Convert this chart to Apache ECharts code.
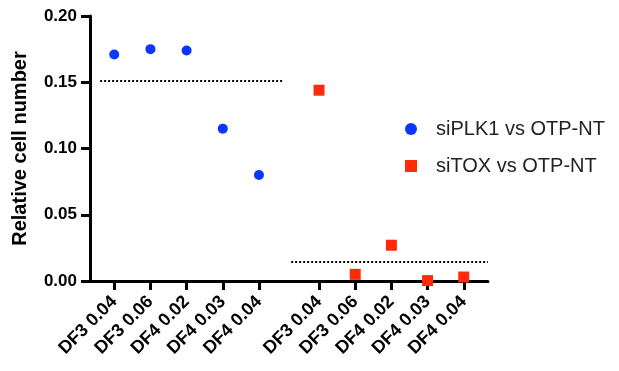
<!DOCTYPE html>
<html>
<head>
<meta charset="utf-8">
<script src="https://cdn.jsdelivr.net/npm/echarts@6/dist/echarts.min.js"></script>
<style>
  html, body { margin: 0; padding: 0; background: #fff; }
  #chart-1 { width: 619px; height: 371px; }
</style>
</head>
<body>
<div id="chart-1"></div>
<script>
// categories, two groups of five
var labels = ['DF3 0.04', 'DF3 0.06', 'DF4 0.02', 'DF4 0.03', 'DF4 0.04',
              'DF3 0.04', 'DF3 0.06', 'DF4 0.02', 'DF4 0.03', 'DF4 0.04'];
// positions on the x axis (second group is shifted right)
var xPos = [1, 2, 3, 4, 5, 6.66, 7.66, 8.66, 9.66, 10.66];
var plkValues = [0.171, 0.175, 0.174, 0.115, 0.080];
var toxValues = [0.144, 0.005, 0.027, 0.0003, 0.003];
// dotted threshold lines: [value, from x, to x]
var plkLine = [0.151, 0.61, 5.66];
var toxLine = [0.0143, 5.89, 11.33];

var myChart = echarts.init(document.getElementById('chart-1'));

var plkData = plkValues.map(function (v, i) { return [xPos[i], v]; });
var toxData = toxValues.map(function (v, i) { return [xPos[i + 5], v]; });

var dotted = {
    color: '#000',
    width: 2,
    type: [2, 2]
};

var option = {
    animation: false,
    grid: {
        left: 90,
        right: 131,
        top: 16,
        bottom: 90
    },
    legend: {
        orient: 'vertical',
        left: 400,
        top: 114,
        itemGap: 17,
        itemWidth: 12,
        itemHeight: 12,
        textStyle: {
            fontSize: 20,
            color: '#222',
            fontFamily: 'Liberation Sans',
            padding: [0, 0, 0, 14]
        },
        data: [
            {name: 'siPLK1 vs OTP-NT', icon: 'circle'},
            {name: 'siTOX vs OTP-NT', icon: 'rect'}
        ]
    },
    xAxis: {
        type: 'value',
        min: 0.33,
        max: 11.33,
        axisLine: {
            lineStyle: {color: '#000', width: 3}
        },
        axisTick: {
            show: true,
            length: 9,
            customValues: xPos,
            lineStyle: {color: '#000', width: 3}
        },
        axisLabel: {
            customValues: xPos,
            rotate: 45,
            margin: 18,
            fontSize: 18,
            fontWeight: 'bold',
            color: '#000',
            fontFamily: 'Liberation Sans',
            formatter: function (v) {
                var i = xPos.indexOf(v);
                return i >= 0 ? labels[i] : '';
            }
        },
        splitLine: {show: false}
    },
    yAxis: {
        type: 'value',
        min: 0,
        max: 0.2,
        interval: 0.05,
        name: 'Relative cell number',
        nameLocation: 'middle',
        nameGap: 60,
        nameTextStyle: {
            fontSize: 20,
            fontWeight: 'bold',
            color: '#000',
            fontFamily: 'Liberation Sans'
        },
        axisLine: {
            show: true,
            lineStyle: {color: '#000', width: 3}
        },
        axisTick: {
            show: true,
            length: 9,
            lineStyle: {color: '#000', width: 3}
        },
        axisLabel: {
            margin: 13,
            fontSize: 17,
            fontWeight: 'bold',
            color: '#000',
            fontFamily: 'Liberation Sans',
            formatter: function (v) { return v.toFixed(2); }
        },
        splitLine: {show: false}
    },
    series: [
        {
            name: 'siPLK1 vs OTP-NT',
            type: 'scatter',
            symbol: 'circle',
            symbolSize: 10,
            itemStyle: {color: '#0a36ff', opacity: 1},
            data: plkData,
            markLine: {
                silent: true,
                symbol: 'none',
                label: {show: false},
                lineStyle: dotted,
                data: [[
                    {coord: [plkLine[1], plkLine[0]]},
                    {coord: [plkLine[2], plkLine[0]]}
                ]]
            }
        },
        {
            name: 'siTOX vs OTP-NT',
            type: 'scatter',
            symbol: 'rect',
            symbolSize: 11,
            itemStyle: {color: '#ff2a0a', opacity: 1},
            data: toxData,
            markLine: {
                silent: true,
                symbol: 'none',
                label: {show: false},
                lineStyle: dotted,
                data: [[
                    {coord: [toxLine[1], toxLine[0]]},
                    {coord: [toxLine[2], toxLine[0]]}
                ]]
            }
        }
    ]
};
myChart.setOption(option);
</script>
</body>
</html>
